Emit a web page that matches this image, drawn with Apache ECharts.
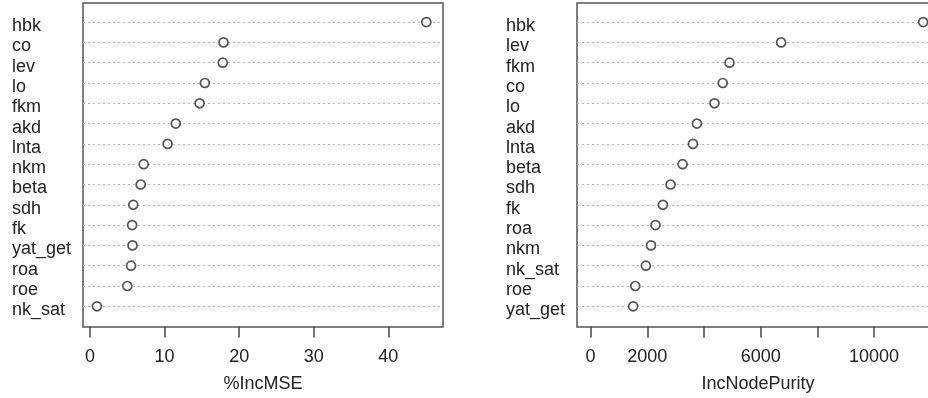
<!DOCTYPE html>
<html>
<head>
<meta charset="utf-8">
<script src="https://cdn.jsdelivr.net/npm/echarts@6/dist/echarts.min.js"></script>
<style>html,body{margin:0;padding:0;background:#fff;}#c{width:928px;height:398px;}</style>
</head>
<body>
<div id="c"></div>
<script>
// Left panel: %IncMSE (top to bottom)
const leftNames = ['hbk','co','lev','lo','fkm','akd','lnta','nkm','beta','sdh','fk','yat_get','roa','roe','nk_sat'];
const leftValues = [45.1, 17.9, 17.8, 15.4, 14.7, 11.5, 10.4, 7.2, 6.8, 5.8, 5.65, 5.7, 5.5, 5.0, 0.93];
const leftTicks = [0, 10, 20, 30, 40];
const leftTickLabels = [0, 10, 20, 30, 40];

// Right panel: IncNodePurity (top to bottom)
const rightNames = ['hbk','lev','fkm','co','lo','akd','lnta','beta','sdh','fk','roa','nkm','nk_sat','roe','yat_get'];
const rightValues = [11730, 6720, 4900, 4660, 4370, 3750, 3610, 3245, 2820, 2550, 2290, 2130, 1950, 1575, 1500];
const rightTicks = [0, 2000, 4000, 6000, 8000, 10000, 12000];
const rightTickLabels = [0, 2000, 6000, 10000];

const FONT = 'Liberation Sans, Arial, sans-serif';
const TXT = '#222';
const N = leftNames.length;

function rowsData(vals) { return vals.map((v, i) => [v, N - i]); }
function nameOf(names) { return v => { const i = N - Math.round(v); return (i >= 0 && i < N && Math.abs(v - Math.round(v)) < 1e-6) ? '{n|' + names[i] + '}' : ''; }; }
const rowIdx = leftNames.map((_, i) => N - i);

function xAxis(gi, min, max, ticks, labels, title) {
  return {
    type: 'value', gridIndex: gi, min: min, max: max,
    axisLine: { show: false },
    splitLine: { show: false },
    axisTick: { show: true, length: 11, inside: false, customValues: ticks, lineStyle: { color: '#444', width: 1.5 } },
    axisLabel: { show: true, customValues: labels, margin: 21, fontSize: 18, fontFamily: FONT, color: TXT,
      formatter: v => String(v) },
    name: title, nameLocation: 'middle', nameGap: 48,
    nameTextStyle: { fontSize: 18, fontFamily: FONT, color: TXT }
  };
}
function yAxis(gi, names) {
  return {
    type: 'value', gridIndex: gi, min: -0.02, max: 15.94,
    axisLine: { show: false }, axisTick: { show: false }, splitLine: { show: false },
    axisLabel: { show: true, customValues: rowIdx, formatter: nameOf(names), align: 'left', margin: 71,
      fontSize: 18, fontFamily: FONT, color: TXT,
      rich: { n: { fontSize: 18, fontFamily: FONT, color: TXT, padding: [8, 0, 0, 0] } } }
  };
}
function series(gi, vals) {
  return {
    type: 'scatter', xAxisIndex: gi, yAxisIndex: gi, data: rowsData(vals),
    symbol: 'circle', symbolSize: 9, z: 5,
    itemStyle: { color: '#fff', borderColor: '#2a2a2a', borderWidth: 1.7 },
    markLine: {
      silent: true, symbol: 'none', animation: false, label: { show: false },
      lineStyle: { color: '#b4b4b4', width: 1, type: [2, 3] },
      data: rowIdx.map(r => ({ yAxis: r }))
    }
  };
}

const chart = echarts.init(document.getElementById('c'), null, { renderer: 'canvas' });
chart.setOption({
  animation: false,
  backgroundColor: '#fff',
  grid: [
    { left: 83, top: 3, width: 360, height: 324, show: true, borderColor: '#555', borderWidth: 1.5, backgroundColor: 'transparent', outerBoundsMode: 'none', containLabel: false },
    { left: 577, top: 3, width: 362, height: 324, show: true, borderColor: '#555', borderWidth: 1.5, backgroundColor: 'transparent', outerBoundsMode: 'none', containLabel: false }
  ],
  xAxis: [
    xAxis(0, -0.94, 47.33, leftTicks, leftTickLabels, '%IncMSE'),
    xAxis(1, -480, 12290, rightTicks, rightTickLabels, 'IncNodePurity')
  ],
  yAxis: [yAxis(0, leftNames), yAxis(1, rightNames)],
  series: [series(0, leftValues), series(1, rightValues)]
});
</script>
</body>
</html>
